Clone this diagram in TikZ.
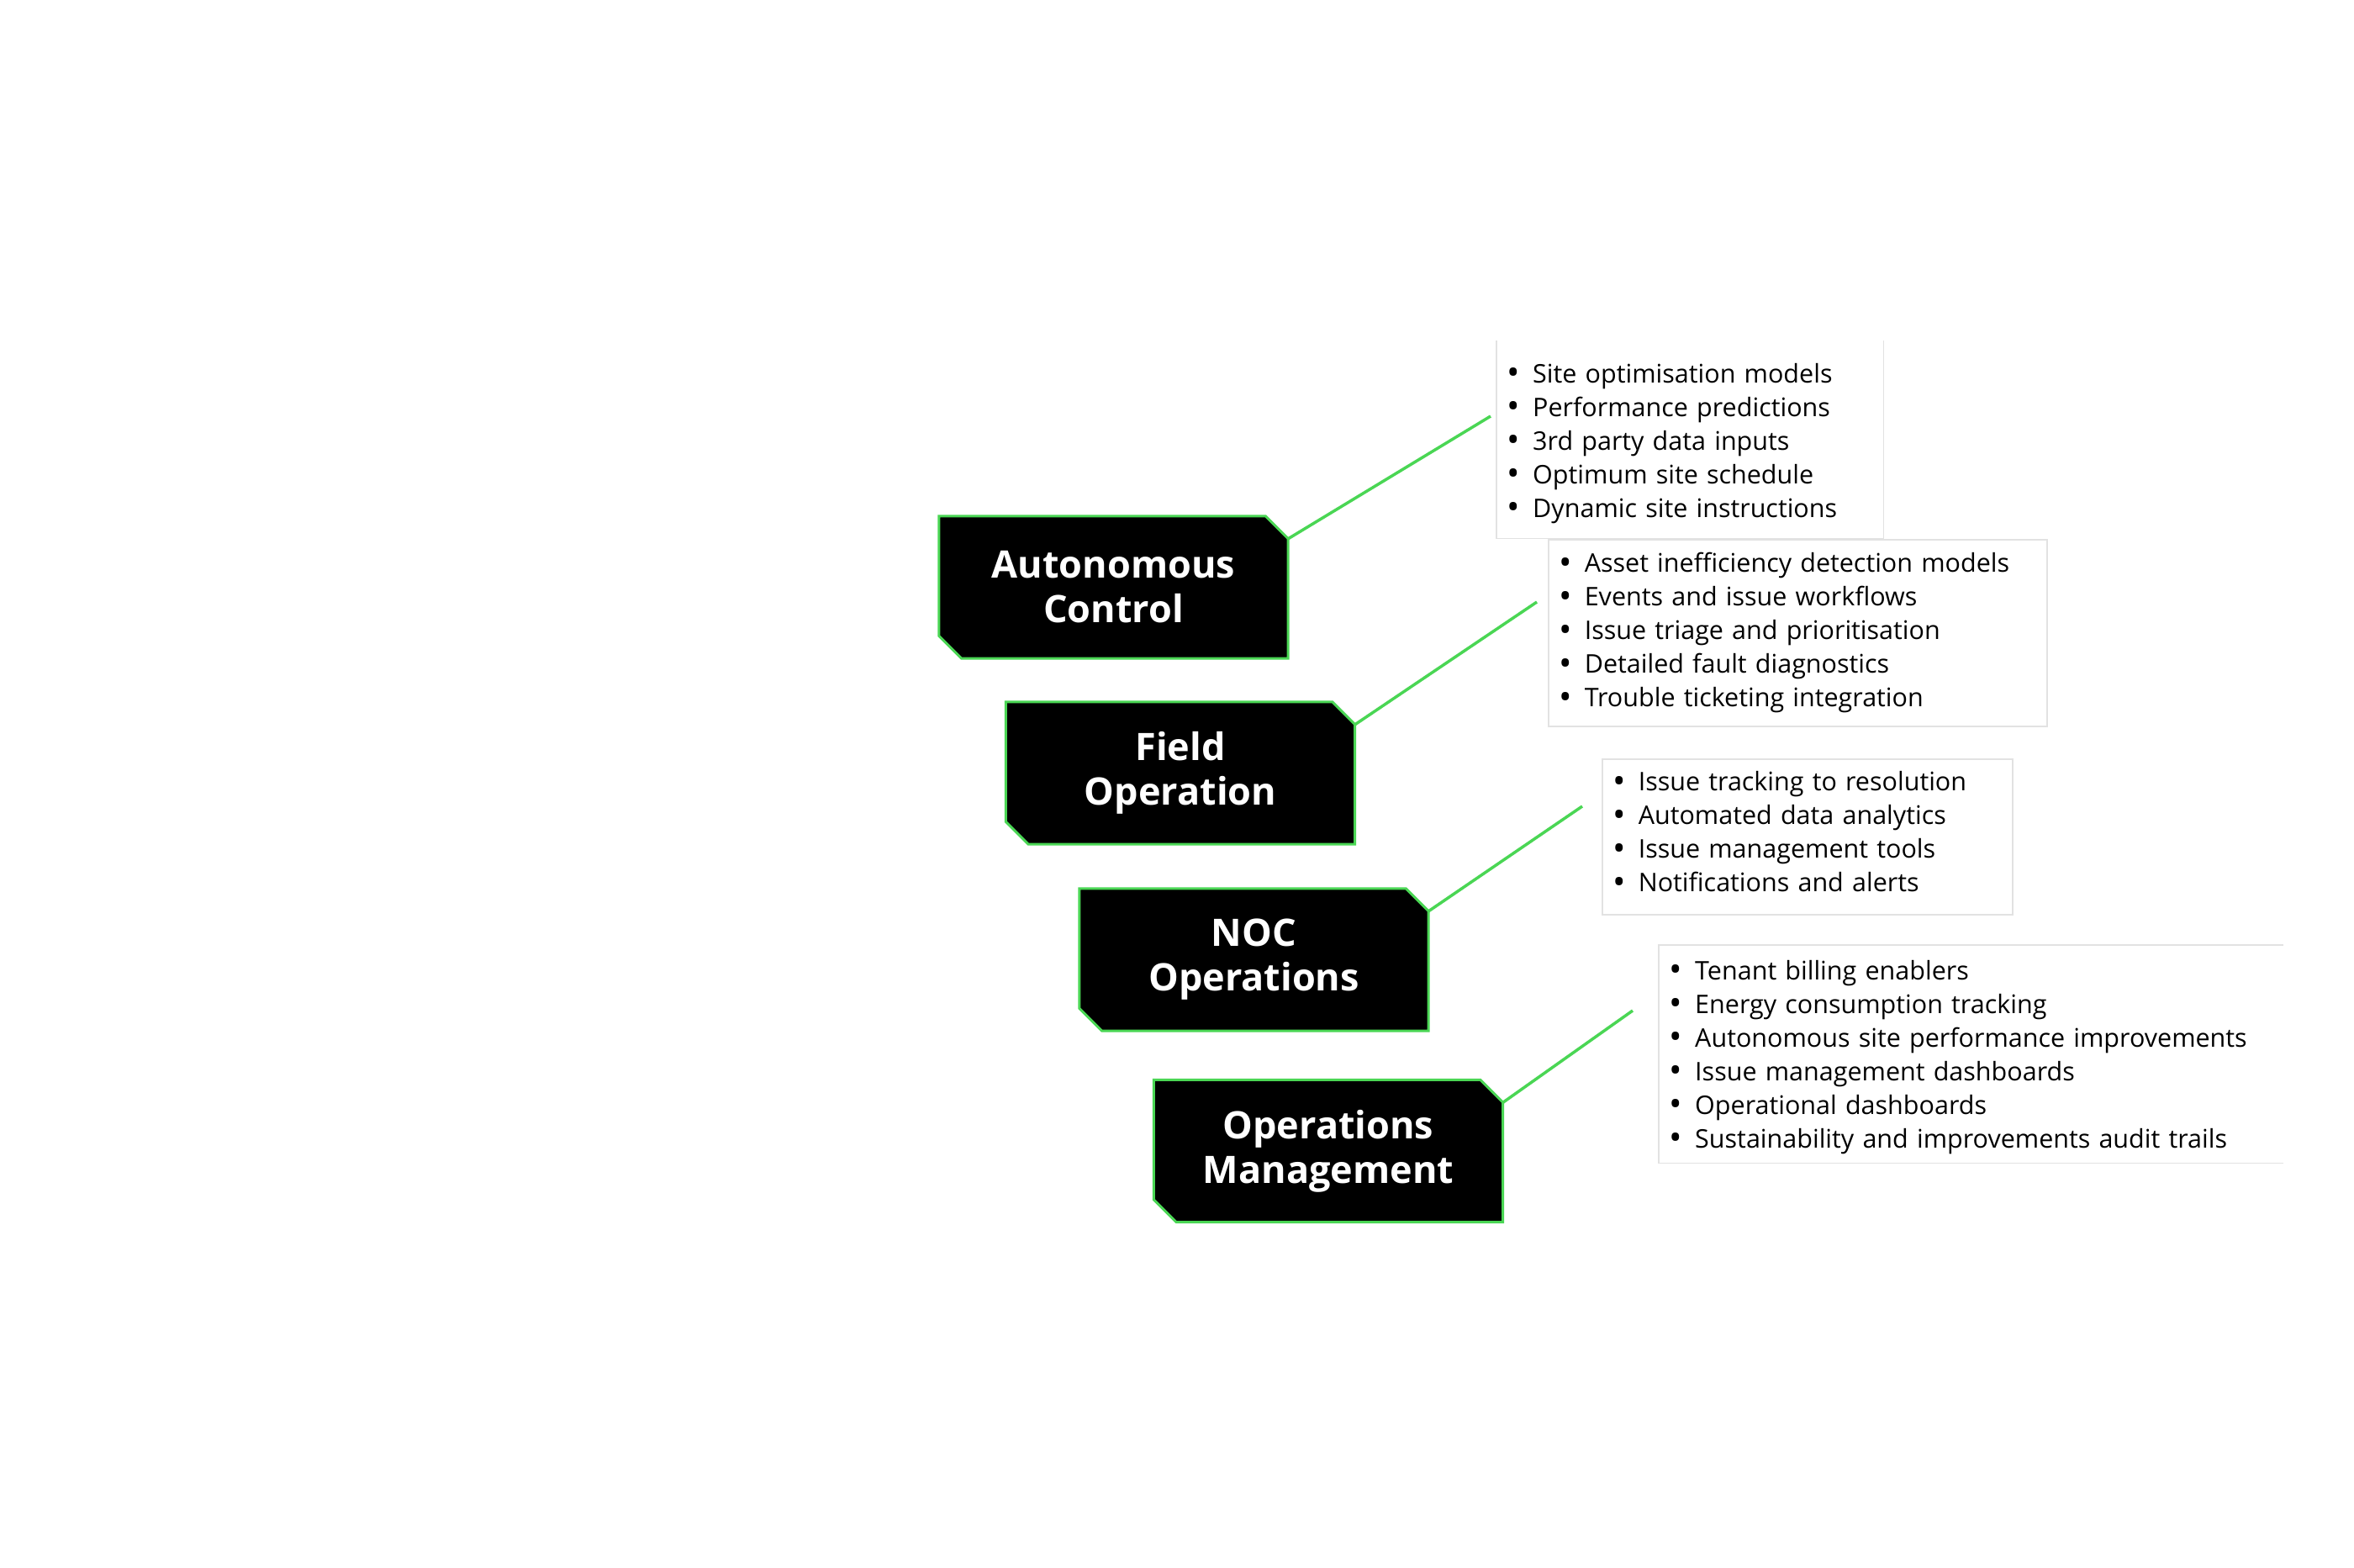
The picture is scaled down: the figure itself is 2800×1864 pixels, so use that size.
\documentclass[tikz,border=0pt]{standalone}
\usepackage{fontspec}
\setmainfont{Open Sans}
\usetikzlibrary{backgrounds}
\definecolor{lime}{RGB}{74,214,84}
\definecolor{boxgray}{RGB}{226,226,226}
\newcommand\itm{\makebox[43pt][l]{\makebox[40pt][c]{\raisebox{-2.5pt}{\scalebox{1.35}{\textbullet}}}}}
\begin{document}
\begin{tikzpicture}[x=1pt,y=-1pt,
  lbl/.style={minimum width=415pt, minimum height=169pt, inner sep=0pt, align=center,
    text=white, font=\fontsize{45}{53}\selectfont\bfseries},
  tbox/.style={anchor=north west, inner sep=0pt, align=left, text=black,
    font=\fontsize{30.5}{40}\selectfont},
  conn/.style={draw=lime, line width=3.5pt},
  chamf/.style={fill=black, draw=lime, line width=3pt, line join=miter},
  gedge/.style={draw=boxgray, line width=1.5pt}
]
\useasboundingbox (0,0) rectangle (2800,1864);

% category labels
\node[lbl] (ac)  at (1324.5,698.5) {Autonomous\\Control};
\node[lbl] (fo)  at (1404,919.5)   {Field\\Operation};
\node[lbl] (noc) at (1491.5,1141.5) {NOC\\Operations};
\node[lbl] (om)  at (1580,1369)    {Operations\\Management};

\begin{scope}[on background layer]
\foreach \n in {ac,fo,noc,om}
  \draw[chamf] (\n.north west) -- ([xshift=-27pt]\n.north east) -- ([yshift=-27pt]\n.north east)
     -- (\n.south east) -- ([xshift=27pt]\n.south west) -- ([yshift=27pt]\n.south west) -- cycle;
\end{scope}

% bullet boxes
\node[tbox, minimum width=460pt, text width=460pt, minimum height=235pt] (t1) at (1780,405)
 {\rule{0pt}{32pt}\itm Site optimisation models\\\itm Performance predictions\\\itm 3rd party data inputs\\\itm Optimum site schedule\\\itm Dynamic site instructions};
\draw[gedge] (t1.north west) -- (t1.south west) -- (t1.south east) -- (t1.north east);

\node[tbox, gedge, minimum width=593pt, text width=593pt, minimum height=222pt] (t2) at (1841,641)
 {\itm Asset inefficiency detection models\\\itm Events and issue workflows\\\itm Issue triage and prioritisation\\\itm Detailed fault diagnostics\\\itm Trouble ticketing integration};

\node[tbox, gedge, minimum width=488pt, text width=488pt, minimum height=185pt] (t3) at (1905,902)
 {\itm Issue tracking to resolution\\\itm Automated data analytics\\\itm Issue management tools\\\itm Notifications and alerts\rule[-12pt]{0pt}{0pt}};

\node[tbox, minimum width=743pt, text width=743pt, minimum height=259pt] (t4) at (1973,1124)
 {\rule{0pt}{30pt}\itm Tenant billing enablers\\\itm Energy consumption tracking\\\itm Autonomous site performance improvements\\\itm Issue management dashboards\\\itm Operational dashboards\\\itm Sustainability and improvements audit trails};
\draw[gedge] (t4.north east) -- (t4.north west) -- (t4.south west) -- (t4.south east);

% connector ends
\coordinate (e1) at (1773,495);
\coordinate (e2) at (1828,716);
\coordinate (e3) at (1882,959);
\coordinate (e4) at (1942,1202);

\draw[conn] ([yshift=-27pt]ac.north east) -- (e1);
\draw[conn] ([yshift=-27pt]fo.north east) -- (e2);
\draw[conn] ([yshift=-27pt]noc.north east) -- (e3);
\draw[conn] ([yshift=-27pt]om.north east) -- (e4);
\end{tikzpicture}
\end{document}
